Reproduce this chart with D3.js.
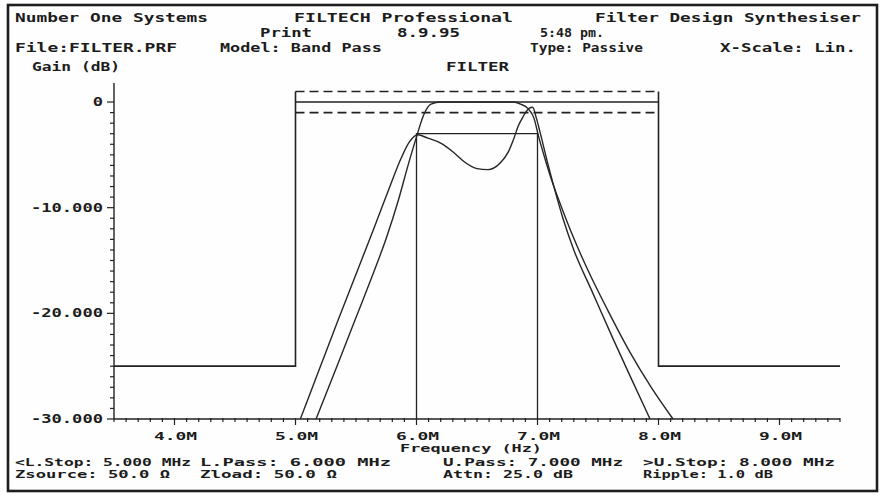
<!DOCTYPE html>
<html>
<head>
<meta charset="utf-8">
<script src="https://cdn.jsdelivr.net/npm/d3@7"></script>
<style>
  html, body { margin: 0; padding: 0; background: #ffffff; }
  svg text {
    font-family: "DejaVu Sans Mono", "Liberation Mono", monospace;
    font-weight: bold;
    fill: #1c1c1c;
  }
</style>
</head>
<body>
<svg id="chart" width="881" height="497"></svg>
<script>
// ---- Axis ticks ----
const freqTicks = [4, 5, 6, 7, 8, 9];
const freqTickLabels = ["4.0M", "5.0M", "6.0M", "7.0M", "8.0M", "9.0M"];
const gainTicks = [0, -10, -20, -30];
const gainTickLabels = ["0", "-10.000", "-20.000", "-30.000"];

// ---- Specification mask (MHz, dB) ----
const lowerStopFreq = [3.5, 5.0, 5.0];
const lowerStopGain = [-25, -25, 1];
const upperStopFreq = [8.0, 8.0, 9.5];
const upperStopGain = [1, -25, -25];
const passBandEdges = [5.0, 8.0];
const passNominalGain = 0;
const rippleLimitGains = [1, -1];
const cornerFreq = [6.0, 6.0, 7.0, 7.0];
const cornerGain = [-30, -3, -3, -30];

// ---- Synthesised responses (MHz, dB) ----
const flatFreq = [5.17, 5.35, 5.50, 5.65, 5.75, 5.85, 5.93, 6.00, 6.06, 6.12, 6.20,
                  6.50, 6.80, 6.86, 6.92, 6.97, 7.01, 7.06, 7.12, 7.20, 7.30, 7.42,
                  7.58, 7.76, 7.94, 8.12];
const flatGain = [-30, -24.8, -20.4, -16.0, -12.9, -9.3, -6.0, -3.3, -1.2, -0.2, 0,
                  0, 0, -0.2, -0.6, -1.5, -3.3, -5.3, -7.5, -10.0, -12.9, -16.0,
                  -19.7, -23.6, -27.0, -30];

const rippleFreq = [5.04, 5.20, 5.35, 5.50, 5.65, 5.78, 5.87, 5.94, 6.01, 6.09,
                    6.20, 6.31, 6.40, 6.50, 6.59, 6.69, 6.76, 6.80, 6.84, 6.88, 6.93,
                    6.96, 6.99, 7.02, 7.08, 7.14, 7.21, 7.30, 7.45, 7.62, 7.78, 7.93];
const rippleGain = [-30, -25.2, -20.7, -16.3, -11.9, -8.0, -5.4, -3.8, -3.1, -3.4,
                    -3.9, -4.8, -5.7, -6.3, -6.4, -5.8, -4.7, -3.6, -2.3, -1.4, -0.6,
                    -0.5, -1.5, -2.8, -5.6, -8.2, -11.0, -14.0, -17.9, -22.3, -26.3, -30];

// ---- Page text ----
const headerLines = [
  "Number One Systems", "FILTECH Professional", "Filter Design Synthesiser",
  "Print", "8.9.95", "5:48 pm.",
  "File:FILTER.PRF", "Model: Band Pass", "Type: Passive", "X-Scale: Lin."
];
const axisTitles = ["Gain (dB)", "FILTER", "Frequency (Hz)"];
const footerLines = [
  "<L.Stop: 5.000 MHz", "L.Pass: 6.000 MHz", "U.Pass: 7.000 MHz", ">U.Stop: 8.000 MHz",
  "Zsource: 50.0 \u03A9", "Zload: 50.0 \u03A9", "Attn: 25.0 dB", "Ripple: 1.0 dB"
];

// Layout for the text blocks: [x, baseline, width, font size]
const headerLayout = [
  [15, 22, 193, 11.5], [294, 22, 219, 11.5], [595, 22, 266, 11.5],
  [260, 37, 52, 11.5], [397, 37, 63, 11.5], [540, 37, 64, 11.5],
  [15, 52, 162, 11.5], [220, 52, 162, 11.5], [530, 52, 113, 11.5], [720, 52, 136, 11.5]
];
const titleLayout = [[32, 71, 88, 11.5], [446, 71, 63, 11.5], [400, 452, 142, 10.5]];
const footerLayout = [
  [15, 466, 176, 10], [200, 466, 191, 10], [443, 466, 180, 10], [643, 466, 192, 10],
  [15, 478, 155, 10], [200, 478, 137, 10], [443, 478, 130, 10], [643, 478, 130, 10]
];

const svg = d3.select("#chart");
const ink = "#222";

// Page frame
svg.append("rect")
  .attr("x", 8).attr("y", 5).attr("width", 869).attr("height", 486)
  .attr("fill", "#fefefe").attr("stroke", "#1e1e1e").attr("stroke-width", 2.6);

const x = d3.scaleLinear().domain([3.5, 9.5]).range([114, 840]);
const y = d3.scaleLinear().domain([-30, 1.8]).range([419, 83]);

function placeText(str, pos) {
  return svg.append("text")
    .attr("x", pos[0]).attr("y", pos[1])
    .attr("font-size", pos[3])
    .attr("textLength", pos[2])
    .attr("lengthAdjust", "spacingAndGlyphs")
    .text(str);
}
headerLines.forEach((s, i) => placeText(s, headerLayout[i]));
axisTitles.forEach((s, i) => placeText(s, titleLayout[i]));
footerLines.forEach((s, i) => placeText(s, footerLayout[i]));

// ---- Axes ----
const axes = svg.append("g").attr("stroke", ink).attr("stroke-width", 1.4).attr("fill", "none");
axes.append("line").attr("x1", x(3.5)).attr("x2", x(3.5)).attr("y1", y(1.8)).attr("y2", y(-30));
axes.append("line").attr("x1", x(3.5)).attr("x2", x(9.5)).attr("y1", y(-30)).attr("y2", y(-30));

// gain ticks: one per dB, longer at labelled values
const gainMinor = d3.range(-30, 0.5, 1);
axes.selectAll("line.gmin").data(gainMinor).join("line")
  .attr("x1", d => x(3.5) - (gainTicks.includes(d) ? 7 : 4)).attr("x2", x(3.5))
  .attr("y1", d => y(d)).attr("y2", d => y(d)).attr("stroke-width", 1.2);

// frequency ticks: every 0.1 MHz, longer at labelled values
const freqMinor = d3.range(35, 96, 1).map(v => v / 10);
axes.selectAll("line.fmin").data(freqMinor).join("line")
  .attr("x1", d => x(d)).attr("x2", d => x(d))
  .attr("y1", y(-30) - 1)
  .attr("y2", d => y(-30) + (freqTicks.includes(d) ? 6 : 3)).attr("stroke-width", 1.2);

gainTicks.forEach((g, i) => {
  const lbl = gainTickLabels[i];
  svg.append("text")
    .attr("x", 103).attr("y", y(g) + 4)
    .attr("font-size", 11.5).attr("text-anchor", "end")
    .attr("textLength", lbl.length * 10.3).attr("lengthAdjust", "spacingAndGlyphs")
    .text(lbl);
});
freqTicks.forEach((f, i) => {
  const lbl = freqTickLabels[i];
  svg.append("text")
    .attr("x", x(f) + 1).attr("y", 440)
    .attr("font-size", 11).attr("text-anchor", "middle")
    .attr("textLength", lbl.length * 10.8).attr("lengthAdjust", "spacingAndGlyphs")
    .text(lbl);
});

// ---- Specification mask ----
const pathOf = (fs, gs) => d3.line().x((d, i) => x(fs[i])).y((d, i) => y(gs[i]))(fs);
const mask = svg.append("g").attr("stroke", ink).attr("fill", "none").attr("stroke-width", 1.6);
mask.append("path").attr("d", pathOf(lowerStopFreq, lowerStopGain));
mask.append("path").attr("d", pathOf(upperStopFreq, upperStopGain));
mask.append("path").attr("d", pathOf(passBandEdges, [passNominalGain, passNominalGain]));
rippleLimitGains.forEach(g => {
  mask.append("path").attr("d", pathOf(passBandEdges, [g, g]))
    .attr("stroke-dasharray", "9,5");
});
mask.append("path").attr("d", pathOf(cornerFreq, cornerGain)).attr("stroke-width", 1.3);

// ---- Responses ----
const curve = d3.line().curve(d3.curveMonotoneX);
const resp = svg.append("g").attr("stroke", "#262626").attr("fill", "none")
  .attr("stroke-width", 1.4).attr("stroke-linejoin", "round");
resp.append("path").attr("d", curve(flatFreq.map((f, i) => [x(f), y(flatGain[i])])));
resp.append("path").attr("d", curve(rippleFreq.map((f, i) => [x(f), y(rippleGain[i])])));
</script>
</body>
</html>
